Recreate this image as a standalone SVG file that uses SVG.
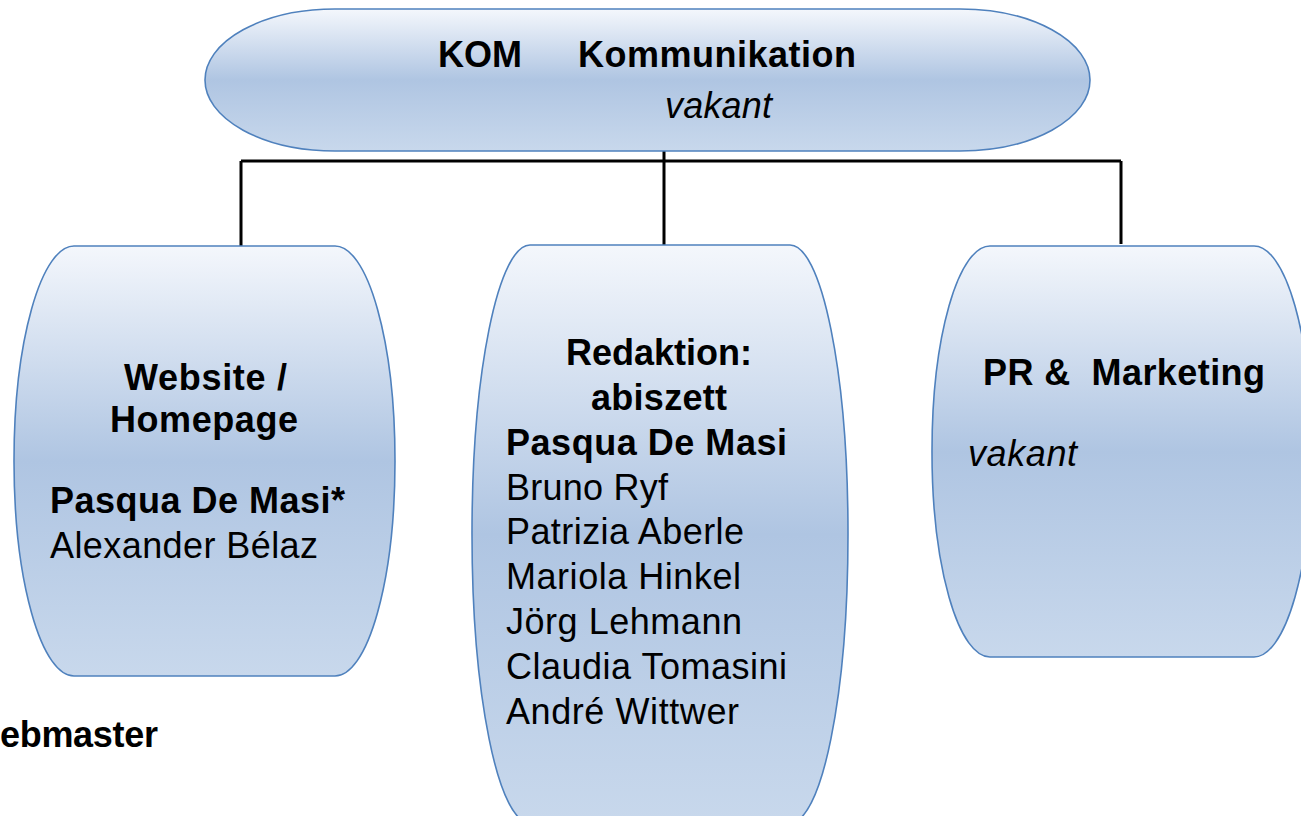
<svg xmlns="http://www.w3.org/2000/svg" width="1301" height="816" viewBox="0 0 1301 816">
<defs>
<linearGradient id="g" x1="0" y1="0" x2="0" y2="1">
<stop offset="0" stop-color="#f4f7fc"/>
<stop offset="0.5" stop-color="#afc5e2"/>
<stop offset="1" stop-color="#c8d8ec"/>
</linearGradient>
</defs>
<style>
.shape{fill:url(#g);stroke:#4f81bd;stroke-width:1.6}
.conn{fill:none;stroke:#000;stroke-width:3}
text{font-family:"Liberation Sans",Arial,sans-serif;font-size:36px;fill:#000}
.b{font-weight:bold}
.i{font-style:italic}
</style>
<rect width="1301" height="816" fill="#fff"/>
<g id="connectors">
<path class="conn" d="M664,151 V246 M241,161 H1121 M241,161 V246 M1121,161 V244"/>
</g>
<g id="kom">
<rect class="shape" x="205" y="9" width="885" height="142" rx="130" ry="71"/>
<text class="b" x="438" y="67" textLength="84">KOM</text>
<text class="b" x="578" y="67" textLength="278">Kommunikation</text>
<text class="i" x="665" y="118" textLength="107">vakant</text>
</g>
<g id="website">
<rect class="shape" x="14" y="246" width="381" height="430" rx="60" ry="215"/>
<text class="b" x="124" y="390" textLength="163">Website /</text>
<text class="b" x="110" y="432" textLength="188">Homepage</text>
<text class="b" x="50" y="513" textLength="295">Pasqua De Masi*</text>
<text x="50" y="558" textLength="268">Alexander Bélaz</text>
</g>
<text id="webmaster" class="b" x="0" y="747" textLength="158">ebmaster</text>
<g id="redaktion">
<rect class="shape" x="472" y="245" width="376" height="578" rx="58" ry="289"/>
<text class="b" x="566" y="365" textLength="186">Redaktion:</text>
<text class="b" x="591" y="410" textLength="136">abiszett</text>
<text class="b" x="506" y="455" textLength="281">Pasqua De Masi</text>
<text x="506" y="500" textLength="162">Bruno Ryf</text>
<text x="506" y="544" textLength="238">Patrizia Aberle</text>
<text x="506" y="589" textLength="235">Mariola Hinkel</text>
<text x="506" y="634" textLength="236">Jörg Lehmann</text>
<text x="506" y="679" textLength="281">Claudia Tomasini</text>
<text x="506" y="724" textLength="233">André Wittwer</text>
</g>
<g id="pr">
<rect class="shape" x="932" y="246" width="380" height="411" rx="58" ry="205"/>
<text class="b" x="983" y="385" textLength="282" xml:space="preserve">PR &amp;  Marketing</text>
<text class="i" x="968" y="466" textLength="109">vakant</text>
</g>
</svg>
